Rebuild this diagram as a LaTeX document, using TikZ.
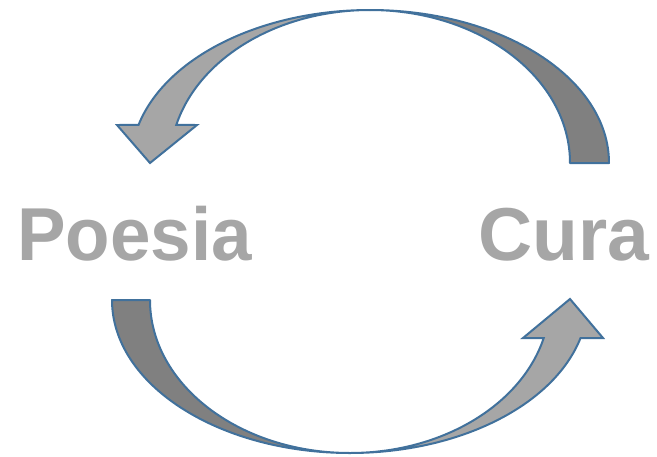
\documentclass[tikz,border=0pt]{standalone}
\usepackage{fontspec}
\setmainfont{Liberation Sans}
\usepackage{tikz}

\definecolor{arrowline}{RGB}{65,113,156}
\definecolor{backgray}{RGB}{128,128,128}
\definecolor{frontgray}{RGB}{166,166,166}

\begin{document}
\begin{tikzpicture}[x=1pt,y=1pt,
    back/.style={draw=arrowline, fill=backgray, line width=2pt, line join=round},
    front/.style={draw=arrowline, fill=frontgray, line width=2pt, line join=miter},
    word/.style={text=frontgray, font=\bfseries\fontsize{75}{75}\selectfont, inner sep=0pt, anchor=base west}]
    %%Background
    \useasboundingbox (0,0) rectangle (657,-456);

    %%Centres of the two loops
    \coordinate (ctop) at (370,-163);
    \coordinate (cbot) at (350,-300);

    %%Upper arrow, back part
    \draw[back] (609,-163) arc[start angle=0, end angle=90, x radius=239, y radius=153]
        arc[start angle=90, end angle=0, x radius=200, y radius=153] -- cycle;
    %%Upper arrow, front part with head
    \draw[front] (370,-10) arc[start angle=90, end angle=165.6, x radius=239, y radius=153]
        -- (117,-125) -- (150,-163) -- (197,-125)
        -- ([shift={(ctop)}]165.6:200 and 153)
        arc[start angle=165.6, end angle=90, x radius=200, y radius=153] -- cycle;

    %%Lower arrow, back part
    \draw[back] (112,-300) arc[start angle=180, end angle=270, x radius=238, y radius=153]
        arc[start angle=270, end angle=180, x radius=200, y radius=153] -- cycle;
    %%Lower arrow, front part with head
    \draw[front] (350,-453) arc[start angle=270, end angle=345.6, x radius=238, y radius=153]
        -- (603,-338) -- (570,-299) -- (523,-338)
        -- ([shift={(cbot)}]345.6:200 and 153)
        arc[start angle=345.6, end angle=270, x radius=200, y radius=153] -- cycle;

    %%Words
    \node[word] (poesia) at (17,-260) {\scalebox{0.97}[1]{Poesia}};
    \node[word] (cura) at (478,-260) {Cura};
\end{tikzpicture}
\end{document}
